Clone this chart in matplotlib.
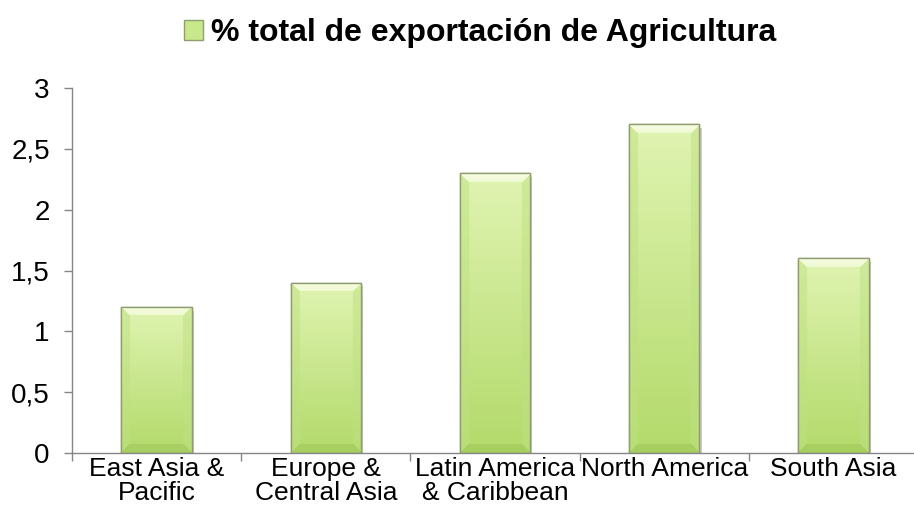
import numpy as np
import matplotlib
matplotlib.use("Agg")
import matplotlib.pyplot as plt
from matplotlib.patches import Rectangle, Patch
from matplotlib.ticker import FixedLocator, FuncFormatter

plt.rcParams['font.family'] = ['Liberation Sans', 'DejaVu Sans']

categories = ["East Asia &\nPacific", "Europe &\nCentral Asia", "Latin America\n& Caribbean",
              "North America", "South Asia"]
values = [1.2, 1.4, 2.3, 2.7, 1.6]
series_name = "% total de exportación de Agricultura"
yticks = [0, 0.5, 1, 1.5, 2, 2.5, 3]

W, H, DPI = 914, 529, 100
fig = plt.figure(figsize=(W / DPI, H / DPI), dpi=DPI)
ax = fig.add_axes([72 / W, (H - 453) / H, (918 - 72) / W, (453 - 88) / H])

x = np.arange(len(categories))
bar_w = 0.415
axis_col = "#868686"
edge_col = "#8E9E6E"

bars = ax.bar(x, values, width=bar_w, color="#C8E88C", edgecolor=edge_col,
              linewidth=1.0, zorder=3)

ax.set_xlim(-0.5, len(categories) - 0.5)
ax.set_ylim(0, 3)


def hexrgb(h):
    h = h.lstrip("#")
    return np.array([int(h[i:i + 2], 16) / 255 for i in (0, 2, 4)])


top_light = hexrgb("#F8FDE6")
side_col = hexrgb("#BEE082")
bottom_col = hexrgb("#A0C85A")
inner_top = hexrgb("#E0F4B2")
inner_bot = hexrgb("#B3DA6A")

fig.canvas.draw()
to_px = ax.transData
for rect in bars:
    x0, y0 = rect.get_x(), rect.get_y()
    bw, bh = rect.get_width(), rect.get_height()
    (px0, py0), (px1, py1) = to_px.transform([(x0, y0), (x0 + bw, y0 + bh)])
    wpx = max(int(round(px1 - px0)), 2)
    hpx = max(int(round(py1 - py0)), 2)
    jj, ii = np.meshgrid(np.arange(wpx) + 0.5, np.arange(hpx) + 0.5)
    d_top = ii
    d_bot = hpx - ii
    d_left = jj
    d_right = wpx - jj
    t = (ii / hpx)[..., None]
    img = inner_top * (1 - t) + inner_bot * t
    bev = 9.0
    dmin = np.minimum.reduce([d_top, d_bot, d_left, d_right])
    img = img.copy()
    m_top = (d_top == dmin) & (d_top < bev)
    m_bot = (d_bot == dmin) & (d_bot < bev) & ~m_top
    m_side = ((d_left == dmin) | (d_right == dmin)) & (dmin < bev) & ~m_top & ~m_bot
    img[m_side] = img[m_side] * 0.5 + side_col * 0.5
    fade = (d_top[m_top] / bev)[..., None]
    img[m_top] = top_light * (1 - 0.4 * fade) + inner_top * 0.4 * fade
    img[m_bot] = img[m_bot] * 0.4 + bottom_col * 0.6
    im = ax.imshow(img, extent=(x0, x0 + bw, y0, y0 + bh), origin="upper",
                   aspect="auto", interpolation="bilinear", zorder=3)
    im.set_clip_path(rect)
    # soft drop shadow to the lower right
    shadow = Rectangle((x0 + 0.014, y0), bw, bh - 0.03, facecolor="#000000",
                       alpha=0.2, edgecolor="none", zorder=2.5)
    ax.add_patch(shadow)
    outline = Rectangle((x0, y0), bw, bh, facecolor="none", edgecolor=edge_col,
                        linewidth=1.0, zorder=4)
    ax.add_patch(outline)

for s in ("top", "right"):
    ax.spines[s].set_visible(False)
for s in ("left", "bottom"):
    ax.spines[s].set_color(axis_col)
    ax.spines[s].set_linewidth(1.0)
ax.spines["bottom"].set_zorder(5)

ax.yaxis.set_major_locator(FixedLocator(yticks))
ax.yaxis.set_major_formatter(FuncFormatter(lambda v, p: f"{v:g}".replace(".", ",")))
ax.tick_params(axis="y", length=6, width=1.0, color=axis_col, labelsize=20,
               labelcolor="black", pad=10)

ax.set_xticks(x)
ax.set_xticklabels(categories)
ax.xaxis.set_minor_locator(FixedLocator(np.arange(-0.5, len(categories), 1.0)))
ax.tick_params(axis="x", which="major", length=0, labelsize=19, pad=3)
ax.tick_params(axis="x", which="minor", length=6, width=1.0, color=axis_col)
for lbl in ax.get_xticklabels():
    lbl.set_linespacing(1.0)

handle = Patch(facecolor="#C8E88C", edgecolor=edge_col, linewidth=1.0)
fig.legend([handle], [series_name], loc="center", bbox_to_anchor=(480 / W, 1 - 33 / H),
           frameon=False, handlelength=0.6, handleheight=0.6, handletextpad=0.25,
           borderpad=0, prop={"weight": "bold", "size": 23})

fig.savefig("out.png", dpi=DPI)
